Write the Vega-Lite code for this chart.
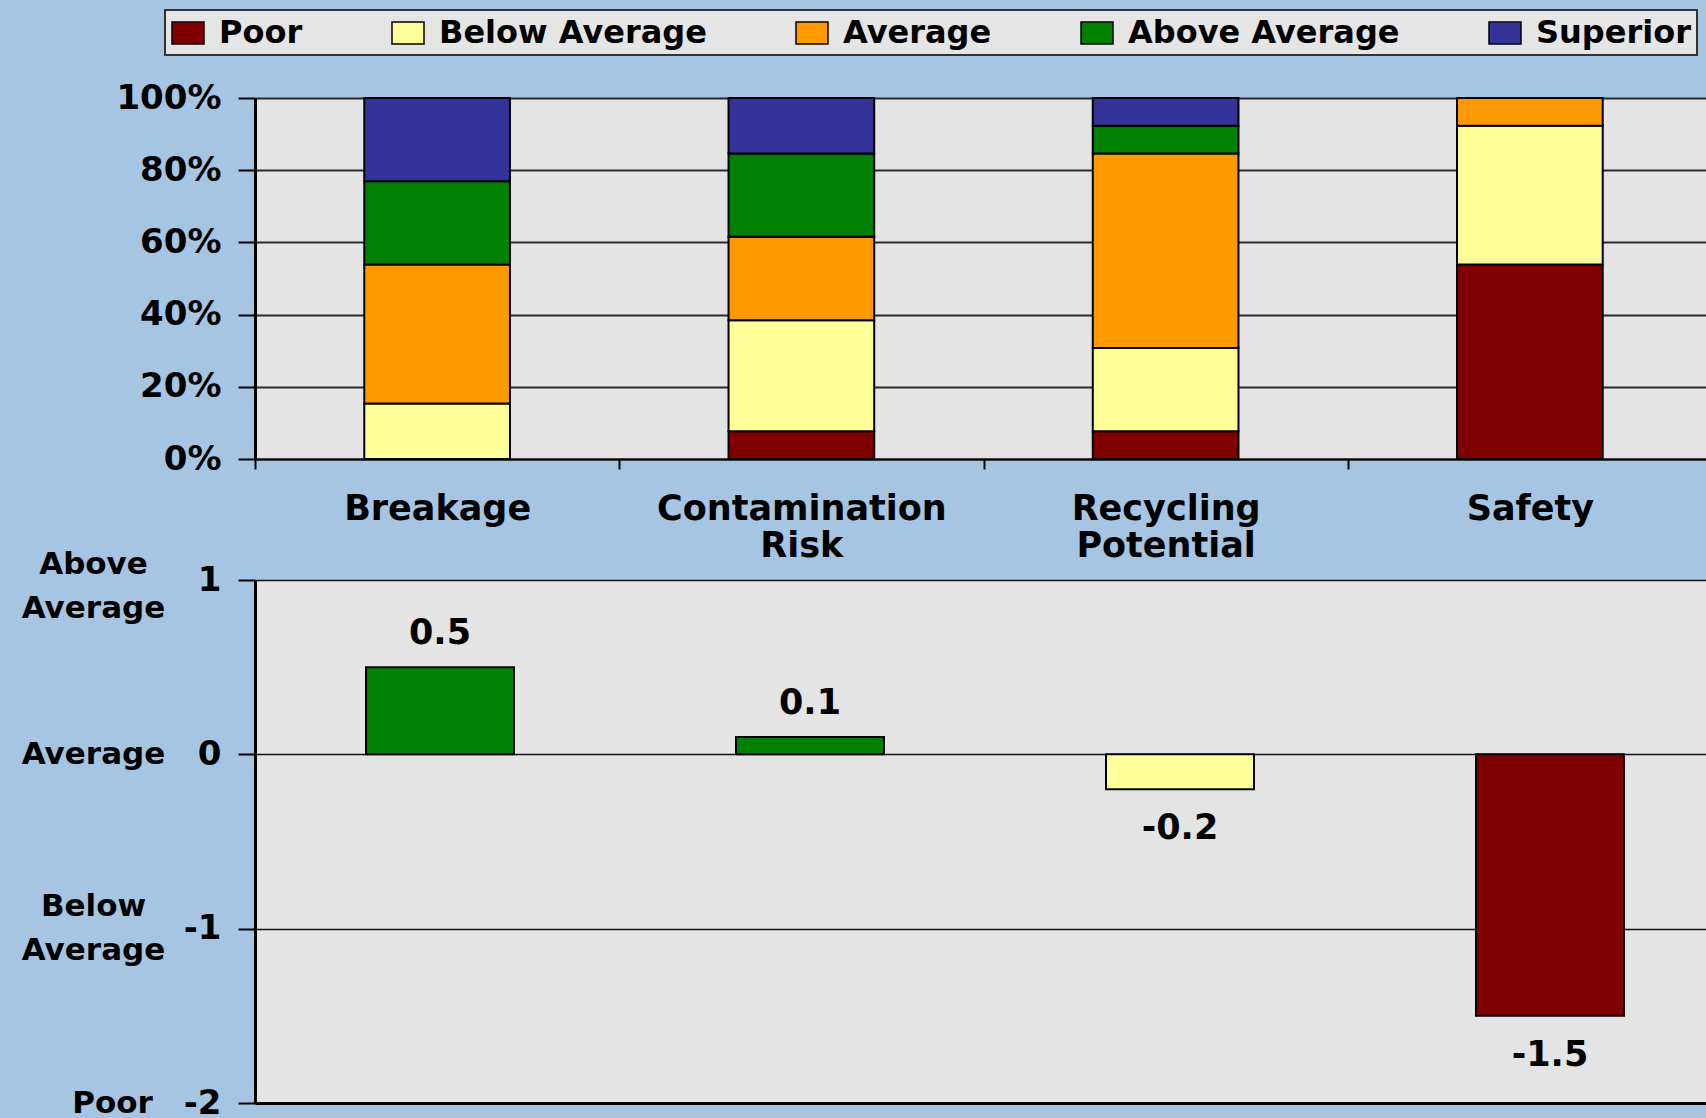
{
  "$schema": "https://vega.github.io/schema/vega-lite/v6.json",
  "background": "#A6C5E2",
  "padding": {"left": 21, "top": 9, "right": 0, "bottom": 0},
  "bounds": "flush",
  "spacing": 121,
  "datasets": {
    "dist": [
      {"cat": "Breakage", "rating": "Below Average", "rank": 2, "count": 2},
      {"cat": "Breakage", "rating": "Average", "rank": 3, "count": 5},
      {"cat": "Breakage", "rating": "Above Average", "rank": 4, "count": 3},
      {"cat": "Breakage", "rating": "Superior", "rank": 5, "count": 3},
      {"cat": "Contamination Risk", "rating": "Poor", "rank": 1, "count": 1},
      {"cat": "Contamination Risk", "rating": "Below Average", "rank": 2, "count": 4},
      {"cat": "Contamination Risk", "rating": "Average", "rank": 3, "count": 3},
      {"cat": "Contamination Risk", "rating": "Above Average", "rank": 4, "count": 3},
      {"cat": "Contamination Risk", "rating": "Superior", "rank": 5, "count": 2},
      {"cat": "Recycling Potential", "rating": "Poor", "rank": 1, "count": 1},
      {"cat": "Recycling Potential", "rating": "Below Average", "rank": 2, "count": 3},
      {"cat": "Recycling Potential", "rating": "Average", "rank": 3, "count": 7},
      {"cat": "Recycling Potential", "rating": "Above Average", "rank": 4, "count": 1},
      {"cat": "Recycling Potential", "rating": "Superior", "rank": 5, "count": 1},
      {"cat": "Safety", "rating": "Poor", "rank": 1, "count": 7},
      {"cat": "Safety", "rating": "Below Average", "rank": 2, "count": 5},
      {"cat": "Safety", "rating": "Average", "rank": 3, "count": 1}
    ],
    "score": [
      {"cat": "Breakage", "score": 0.5, "label": "0.5", "rating": "Above Average"},
      {"cat": "Contamination Risk", "score": 0.1, "label": "0.1", "rating": "Above Average"},
      {"cat": "Recycling Potential", "score": -0.2, "label": "-0.2", "rating": "Below Average"},
      {"cat": "Safety", "score": -1.5, "label": "-1.5", "rating": "Poor"}
    ]
  },
  "config": {
    "view": {"stroke": null, "fill": "#E4E4E4"},
    "axis": {"labelFont": "DejaVu Sans", "labelFontWeight": "bold", "labelColor": "#000", "title": null},
    "legend": {"strokeWidth": 2}
  },
  "vconcat": [
    {
      "width": 1457,
      "height": 361,
      "data": {"name": "dist"},
      "mark": {"type": "bar", "stroke": "#000", "strokeWidth": 2},
      "encoding": {
        "x": {
          "field": "cat", "type": "nominal",
          "sort": ["Breakage", "Contamination Risk", "Recycling Potential", "Safety"],
          "scale": {"paddingInner": 0.6, "paddingOuter": 0.3},
          "axis": {
            "labelAngle": 0, "labelExpr": "split(datum.label, ' ')", "labelLimit": 0,
            "labelFontSize": 35, "labelLineHeight": 37, "labelBaseline": "top",
            "labelPadding": 22, "tickSize": 10, "tickOffset": -182.1, "labelOffset": 182.1,
            "tickWidth": 2, "tickColor": "#000", "domainColor": "#000", "domainWidth": 2, "grid": false
          }
        },
        "y": {
          "field": "count", "type": "quantitative", "stack": "normalize",
          "scale": {"domain": [0, 1], "nice": false},
          "axis": {
            "values": [0, 0.2, 0.4, 0.6, 0.8, 1], "format": ".0%",
            "labelFontSize": 34, "tickSize": 17, "labelPadding": 17,
            "tickColor": "#000", "tickWidth": 2,
            "grid": true, "gridColor": "#2a2a2a", "gridWidth": 2,
            "domainColor": "#000", "domainWidth": 3
          }
        },
        "color": {
          "field": "rating", "type": "nominal",
          "scale": {
            "domain": ["Poor", "Below Average", "Average", "Above Average", "Superior"],
            "range": ["#800000", "#FFFF99", "#FF9900", "#008000", "#333399"]
          },
          "legend": {
            "orient": "none", "legendX": -90, "legendY": -88, "direction": "horizontal",
            "title": null, "symbolType": "M-1,-0.68H1V0.68H-1Z", "symbolSize": 1024,
            "symbolStrokeColor": "#000", "symbolStrokeWidth": 1.5, "symbolOpacity": 1,
            "labelFont": "DejaVu Sans", "labelFontWeight": "bold", "labelFontSize": 32,
            "labelColor": "#000", "labelOffset": 14, "labelLimit": 0,
            "columnPadding": 86, "padding": 6,
            "fillColor": "#E5E5E5", "strokeColor": "#333"
          }
        },
        "order": {"field": "rank", "type": "quantitative"}
      }
    },
    {
      "width": 1480,
      "height": 523,
      "data": {"name": "score"},
      "encoding": {
        "x": {
          "field": "cat", "type": "nominal",
          "sort": ["Breakage", "Contamination Risk", "Recycling Potential", "Safety"],
          "scale": {"paddingInner": 0.6, "paddingOuter": 0.3},
          "axis": {"labels": false, "ticks": false, "domain": true, "domainWidth": 3, "domainColor": "#000", "grid": false}
        }
      },
      "layer": [
        {
          "encoding": {
            "y": {
              "field": "score", "type": "quantitative",
              "scale": {"domain": [-2, 1], "nice": false},
              "axis": {
                "values": [-2, -1, 0, 1], "labelExpr": "'' + datum.value",
                "labelFontSize": 34, "tickSize": 17, "labelPadding": 17,
                "tickColor": "#000", "tickWidth": 2,
                "grid": true, "gridColor": "#111", "gridWidth": 1.5,
                "domainColor": "#000", "domainWidth": 3
              }
            }
          },
          "layer": [
            {
              "mark": {"type": "bar", "stroke": "#000", "strokeWidth": 2},
              "encoding": {"color": {"field": "rating", "type": "nominal"}}
            },
            {
              "transform": [{"filter": "datum.score > 0"}],
              "mark": {"type": "text", "baseline": "alphabetic", "dy": -23, "font": "DejaVu Sans", "fontWeight": "bold", "fontSize": 35, "color": "#000"},
              "encoding": {"text": {"field": "label"}}
            },
            {
              "transform": [{"filter": "datum.score < 0"}],
              "mark": {"type": "text", "baseline": "top", "dy": 22, "font": "DejaVu Sans", "fontWeight": "bold", "fontSize": 35, "color": "#000"},
              "encoding": {"text": {"field": "label"}}
            }
          ]
        },
        {
          "mark": {"type": "point", "opacity": 0},
          "encoding": {
            "y": {
              "field": "score", "type": "quantitative",
              "scale": {"domain": [-2, 1], "nice": false},
              "axis": {
                "orient": "left", "values": [-2, -1, 0, 1],
                "labelExpr": "datum.value == 1 ? ['Above', 'Average'] : datum.value == 0 ? 'Average' : datum.value == -1 ? ['Below', 'Average'] : 'Poor'",
                "labelFontSize": 31, "labelLineHeight": 44, "labelAlign": "center", "labelBaseline": "middle",
                "labelPadding": {"condition": {"test": "datum.value == -2", "value": 143}, "value": 162},
                "ticks": false, "tickSize": 0, "domain": false, "grid": false, "offset": 0,
                "labelOffset": {"condition": [{"test": "datum.value == 1", "value": -16}, {"test": "datum.value == -1", "value": -22}], "value": 0}
              }
            }
          }
        }
      ],
      "resolve": {"scale": {"y": "independent"}}
    }
  ]
}
